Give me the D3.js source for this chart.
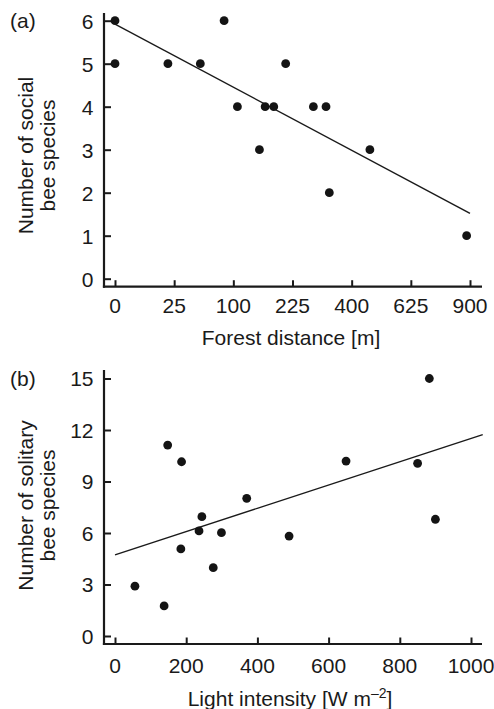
<!DOCTYPE html>
<html><head><meta charset="utf-8">
<script src="https://cdn.jsdelivr.net/npm/d3@7"></script>
<style>
html,body{margin:0;padding:0;background:#fff;}
svg text{font-family:"Liberation Sans",Arial,Helvetica,sans-serif;fill:#1a1a1a;}
</style></head>
<body>
<svg id="c" width="494" height="709"></svg>
<script>
// Panel (a)
const forestDist = [0, 0, 20, 52, 85, 107, 149, 161, 180, 208, 281, 318, 464, 328, 883];
const socialBees = [6, 5, 5, 5, 6, 4, 3, 4, 4, 5, 4, 4, 3, 2, 1];
const forestTicks = [0, 25, 100, 225, 400, 625, 900];
const socialTicks = [0, 1, 2, 3, 4, 5, 6];
const fitA_x = [0, 900];
const fitA_y = [5.92, 1.52];
// Panel (b)
const lightInt = [56, 138, 185, 276, 148, 187, 244, 236, 299, 370, 489, 649, 850, 900, 883];
const solitaryBees = [2.9, 1.75, 5.07, 3.98, 11.12, 10.15, 6.95, 6.12, 6.02, 8.02, 5.82, 10.19, 10.06, 6.8, 15];
const lightTicks = [0, 200, 400, 600, 800, 1000];
const solitaryTicks = [0, 3, 6, 9, 12, 15];
const fitB_x = [0, 1033];
const fitB_y = [4.73, 11.73];

const svg = d3.select("#c");
const FS = 21;
const ink = "#1a1a1a";

function panel(opt) {
  const g = svg.append("g");
  const x = opt.x, y = opt.y;
  // axes lines
  g.append("line").attr("x1", opt.axX).attr("x2", opt.axX)
    .attr("y1", opt.yTop).attr("y2", opt.axY + 1)
    .attr("stroke", ink).attr("stroke-width", 2.2);
  g.append("line").attr("x1", opt.axX - 1.1).attr("x2", opt.xRight)
    .attr("y1", opt.axY).attr("y2", opt.axY)
    .attr("stroke", ink).attr("stroke-width", 2.2);
  // y axis ticks
  const ya = d3.axisRight(y).tickValues(opt.yTicks).tickSize(7).tickFormat("");
  const yg = g.append("g").attr("transform", `translate(${opt.axX},0)`).call(ya);
  yg.select(".domain").remove();
  yg.selectAll(".tick line").attr("stroke", ink).attr("stroke-width", 2);
  g.selectAll(".ylab").data(opt.yTicks).enter().append("text")
    .attr("x", 93.5).attr("y", d => y(d) + 7.8)
    .attr("text-anchor", "end").attr("font-size", FS).text(d => d);
  // x axis ticks
  const xa = d3.axisTop(x).tickValues(opt.xTicks).tickSize(6.5).tickFormat("");
  const xg = g.append("g").attr("transform", `translate(0,${opt.axY})`).call(xa);
  xg.select(".domain").remove();
  xg.selectAll(".tick line").attr("stroke", ink).attr("stroke-width", 2);
  g.selectAll(".xlab").data(opt.xTicks).enter().append("text")
    .attr("x", d => x(d)).attr("y", opt.xLabY)
    .attr("text-anchor", "middle").attr("font-size", FS).text(d => d);
  // fit line
  g.append("line")
    .attr("x1", x(opt.fx[0])).attr("y1", y(opt.fy[0]))
    .attr("x2", x(opt.fx[1])).attr("y2", y(opt.fy[1]))
    .attr("stroke", ink).attr("stroke-width", 1.4);
  // points
  g.selectAll("circle").data(opt.xs).enter().append("circle")
    .attr("cx", d => x(d)).attr("cy", (d, i) => y(opt.ys[i]))
    .attr("r", 4.4).attr("fill", "#141414");
  // panel tag
  g.append("text").attr("x", 10).attr("y", opt.tagY).attr("font-size", FS).text(opt.tag);
  // y label
  const yl = g.append("text").attr("font-size", FS).attr("text-anchor", "middle");
  yl.append("tspan").attr("x", 0).attr("y", 0).text(opt.yl1);
  yl.append("tspan").attr("x", 0).attr("y", 22).text(opt.yl2);
  yl.attr("transform", `translate(33,${opt.ylC}) rotate(-90)`);
  // x label
  return g;
}

const xA = d3.scaleSqrt().domain([0, 900]).range([115, 470]);
const yA = d3.scaleLinear().domain([0, 6]).range([278.7, 20.7]);
const gA = panel({x: xA, y: yA, axX: 104, axY: 286.7, yTop: 13, xRight: 482,
  yTicks: socialTicks, xTicks: forestTicks, xLabY: 313.3, fx: fitA_x, fy: fitA_y,
  xs: forestDist, ys: socialBees, tag: "(a)", tagY: 27.5,
  yl1: "Number of social", yl2: "bee species", ylC: 155.5});
gA.append("text").attr("x", 291).attr("y", 345).attr("text-anchor", "middle")
  .attr("font-size", FS).text("Forest distance [m]");

const xB = d3.scaleLinear().domain([0, 1000]).range([115, 471]);
const yB = d3.scaleLinear().domain([0, 15]).range([636, 378.5]);
const gB = panel({x: xB, y: yB, axX: 104, axY: 644, yTop: 370, xRight: 482,
  yTicks: solitaryTicks, xTicks: lightTicks, xLabY: 672.7, fx: fitB_x, fy: fitB_y,
  xs: lightInt, ys: solitaryBees, tag: "(b)", tagY: 386,
  yl1: "Number of solitary", yl2: "bee species", ylC: 505.5});
const xl = gB.append("text").attr("x", 290).attr("y", 705.5).attr("text-anchor", "middle")
  .attr("font-size", FS);
xl.append("tspan").text("Light intensity [W m");
xl.append("tspan").attr("font-size", 14).attr("dy", -8).text("–2");
xl.append("tspan").attr("dy", 8).text("]");
</script>
</body></html>
